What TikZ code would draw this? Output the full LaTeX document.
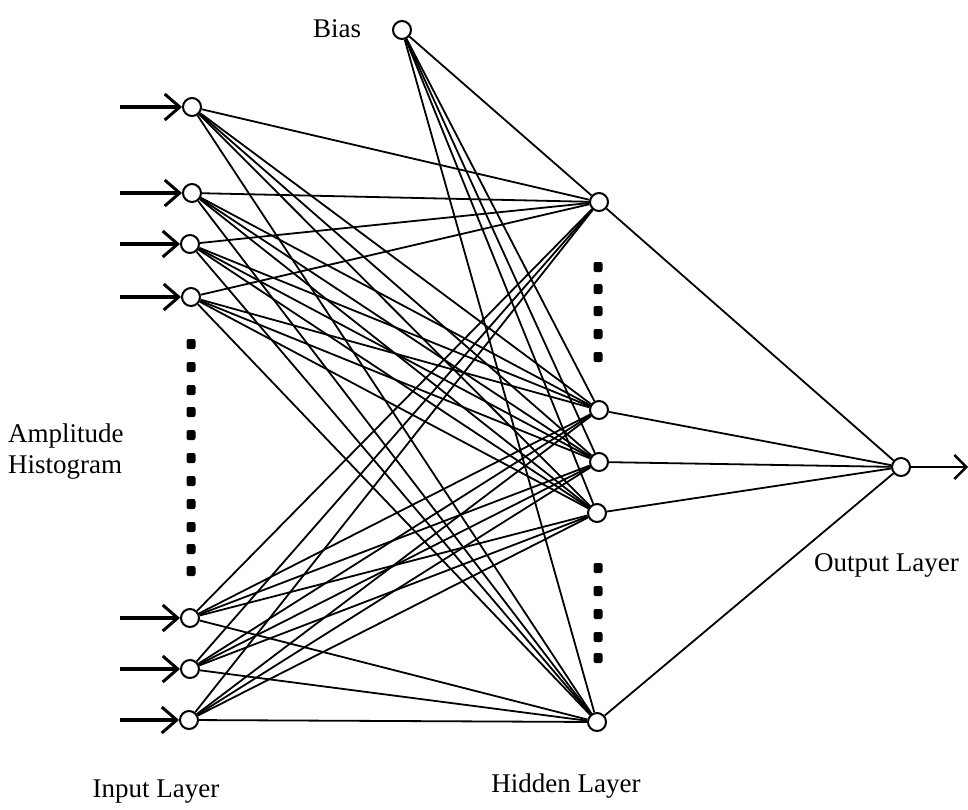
\documentclass[tikz,border=0pt]{standalone}
\usepackage{fontspec}
\setmainfont{Liberation Serif}
\usetikzlibrary{arrows.meta}
\begin{document}
\begin{tikzpicture}[x=1pt,y=-1pt,
  neuron/.style={draw,circle,fill=white,minimum size=18pt,inner sep=0pt,line width=2pt},
  conn/.style={line width=1.8pt},
  inarrow/.style={line width=3.2pt,-{Straight Barb[length=15pt,width=26pt,line width=3pt]}},
  outarrow/.style={line width=2pt,-{Straight Barb[length=12pt,width=24pt,line width=2.4pt]}},
  dotmark/.style={fill=black,rounded corners=2pt},
  lbl/.style={font=\fontsize{27}{31}\selectfont,inner sep=0pt}]
\useasboundingbox (0,0) rectangle (968,809);
% input neurons
\foreach \n/\x/\y in {1/192/107,2/192/193,3/190/244,4/191/297,5/190/618,6/190/669,7/189/720}
  \node[neuron] (i\n) at (\x,\y) {};
% hidden neurons
\foreach \n/\x/\y in {1/599/202,2/599/410,3/599/462,4/597/513,5/597/722}
  \node[neuron] (h\n) at (\x,\y) {};
\node[neuron] (bias) at (402,30) {};
\node[neuron] (out) at (901,467) {};
% input arrows
\foreach \n/\y in {1/107,2/193,3/244,4/297,5/618,6/669,7/720}
  \coordinate (s\n) at (120,\y);
\foreach \n in {1,...,7}
  \draw[inarrow] (s\n) -- (i\n);
% connections
\foreach \i in {1,...,7}
  \foreach \h in {1,...,5}
    \draw[conn] (i\i) -- (h\h);
\foreach \h in {1,...,5}
  \draw[conn] (bias) -- (h\h);
\foreach \h in {1,...,5}
  \draw[conn] (h\h) -- (out);
\coordinate (oend) at (968,467);
\draw[outarrow] (out) -- (oend);
% dots
\foreach \y in {344,367,390,412,435,458,481,504,527,549,571}
  \fill[dotmark] (186.5,\y-5) rectangle (195.5,\y+5);
\foreach \y in {267,289,311,334,357,568,591,614,637,658}
  \fill[dotmark] (593.5,\y-5) rectangle (602.5,\y+5);
% labels
\node[lbl] (tbias) at (337,29) {Bias};
\node[lbl,anchor=west,align=left] (tamp) at (8,452) {Amplitude\\Histogram};
\node[lbl] (tin) at (156,792) {Input Layer};
\node[lbl] (thid) at (566,786) {Hidden Layer};
\node[lbl,anchor=west] (tout) at (814,565) {Output Layer};
\end{tikzpicture}
\end{document}
